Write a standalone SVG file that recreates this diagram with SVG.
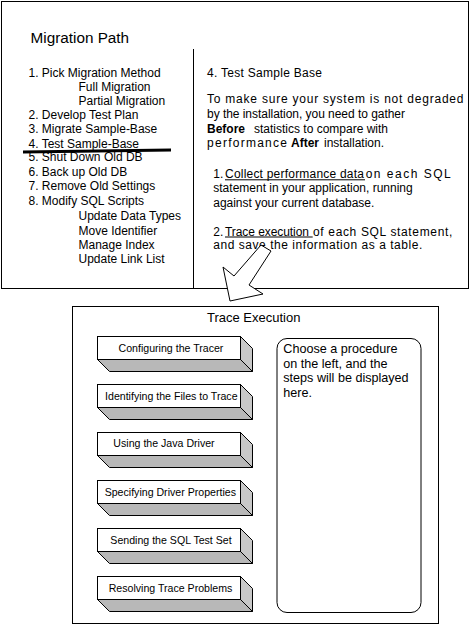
<svg xmlns="http://www.w3.org/2000/svg" width="469" height="626" viewBox="0 0 469 626">
<style>
text{font-family:"Liberation Sans",Arial,sans-serif;fill:#000}
.t12{font-size:12px}
.b{font-weight:bold}
.frame{fill:#fff;stroke:#000;stroke-width:1}
.ln{stroke:#000;stroke-width:1;fill:none}
.face{fill:#fff;stroke:#000;stroke-width:1}
.side{fill:#c8c8c8;stroke:#000;stroke-width:1;stroke-linejoin:miter}
.bot{fill:#b8b8b8;stroke:#000;stroke-width:1}
.lbl{font-size:10.6px;text-anchor:middle}
.panel{font-size:12.6px}
</style>
<rect width="469" height="626" fill="#fff"/>

<g id="migration-path">
<rect class="frame" x="1.5" y="1.5" width="467" height="287"/>
<line class="ln" x1="193.5" y1="49" x2="193.5" y2="288.5"/>
<text x="30.5" y="43" style="font-size:15.3px">Migration Path</text>
<g class="t12">
<text x="28.5" y="76.5">1. Pick Migration Method</text>
<text x="78.5" y="90.5">Full Migration</text>
<text x="78.5" y="104.5">Partial Migration</text>
<text x="28.5" y="119">2. Develop Test Plan</text>
<text x="28.5" y="133">3. Migrate Sample-Base</text>
<text x="28.5" y="147.5">4. Test Sample-Base</text>
<text x="28.5" y="161">5. Shut Down Old DB</text>
<text x="28.5" y="176">6. Back up Old DB</text>
<text x="28.5" y="190">7. Remove Old Settings</text>
<text x="28.5" y="204.5">8. Modify SQL Scripts</text>
<text x="78.5" y="220">Update Data Types</text>
<text x="78.5" y="234.5">Move Identifier</text>
<text x="78.5" y="248.5">Manage Index</text>
<text x="78.5" y="263">Update Link List</text>
</g>
<line x1="23" y1="152" x2="171" y2="150" stroke="#000" stroke-width="3"/>
</g>

<g id="test-sample-base" class="t12">
<text x="207" y="77" textLength="115" lengthAdjust="spacing">4. Test Sample Base</text>
<text x="207" y="103" textLength="256.5" lengthAdjust="spacing">To make sure your system is not degraded</text>
<text x="207" y="117.5" textLength="198" lengthAdjust="spacing">by the installation, you need to gather</text>
<text x="207" y="132.5" class="b">Before</text>
<text x="254" y="132.5">statistics to compare with</text>
<text x="207" y="146.5" textLength="80" lengthAdjust="spacing">performance</text>
<text x="291" y="146.5" class="b">After</text>
<text x="324" y="146.5">installation.</text>

<text x="213.3" y="178.3">1.</text>
<text x="225" y="178.3" textLength="139" lengthAdjust="spacing">Collect performance data</text>
<line class="ln" x1="225" y1="179.8" x2="365" y2="179.8"/>
<text x="365.7" y="178.3" textLength="85" lengthAdjust="spacing">on each SQL</text>
<text x="213.3" y="192.3" textLength="199.4" lengthAdjust="spacing">statement in your application, running</text>
<text x="213.3" y="206.5" textLength="161" lengthAdjust="spacing">against your current database.</text>
<text x="213.3" y="235.5">2.</text>
<text x="225" y="235.5" textLength="84" lengthAdjust="spacing">Trace execution</text>
<line class="ln" x1="225" y1="237" x2="312.7" y2="237"/>
<text x="313" y="235.5" textLength="139.3" lengthAdjust="spacing">of each SQL statement,</text>
<text x="213.3" y="249.3" textLength="209" lengthAdjust="spacing">and save the information as a table.</text>
</g>

<g id="connectors">
<polygon points="261,245 271,251 249,285 263,294 230,301 223,267 234,276" fill="#fff" stroke="#000" stroke-width="1" stroke-linejoin="miter"/>
</g>

<g id="trace-execution">
<rect class="frame" x="72.5" y="306.5" width="366" height="317"/>
<text x="253.7" y="322.3" style="font-size:13px" text-anchor="middle">Trace Execution</text>
</g>

<g id="btn-configuring">
<polygon class="side" points="240.5,336.5 252.5,348.5 252.5,371.5 240.5,359.5"/>
<polygon class="bot" points="97.5,359.5 240.5,359.5 252.5,371.5 109.5,371.5"/>
<rect class="face" x="97.5" y="336.5" width="143" height="23"/>
<text class="lbl" x="171" y="352.3">Configuring the Tracer</text>
</g>
<g id="btn-identifying">
<polygon class="side" points="240.5,384.5 252.5,396.5 252.5,419.5 240.5,407.5"/>
<polygon class="bot" points="97.5,407.5 240.5,407.5 252.5,419.5 109.5,419.5"/>
<rect class="face" x="97.5" y="384.5" width="143" height="23"/>
<text class="lbl" x="171.3" y="400.3">Identifying the Files to Trace</text>
</g>
<g id="btn-java">
<polygon class="side" points="240.5,432.5 252.5,444.5 252.5,467.5 240.5,455.5"/>
<polygon class="bot" points="97.5,455.5 240.5,455.5 252.5,467.5 109.5,467.5"/>
<rect class="face" x="97.5" y="432.5" width="143" height="23"/>
<text class="lbl" x="164" y="447.3">Using the Java Driver</text>
</g>
<g id="btn-properties">
<polygon class="side" points="240.5,480.5 252.5,492.5 252.5,515.5 240.5,503.5"/>
<polygon class="bot" points="97.5,503.5 240.5,503.5 252.5,515.5 109.5,515.5"/>
<rect class="face" x="97.5" y="480.5" width="143" height="23"/>
<text class="lbl" x="170.3" y="495.8">Specifying Driver Properties</text>
</g>
<g id="btn-sending">
<polygon class="side" points="240.5,528.5 252.5,540.5 252.5,563.5 240.5,551.5"/>
<polygon class="bot" points="97.5,551.5 240.5,551.5 252.5,563.5 109.5,563.5"/>
<rect class="face" x="97.5" y="528.5" width="143" height="23"/>
<text class="lbl" x="171" y="543.8">Sending the SQL Test Set</text>
</g>
<g id="btn-resolving">
<polygon class="side" points="240.5,576.5 252.5,588.5 252.5,611.5 240.5,599.5"/>
<polygon class="bot" points="97.5,599.5 240.5,599.5 252.5,611.5 109.5,611.5"/>
<rect class="face" x="97.5" y="576.5" width="143" height="23"/>
<text class="lbl" x="170.5" y="591.8">Resolving Trace Problems</text>
</g>

<g id="steps-panel">
<rect class="frame" x="277" y="338.5" width="144" height="274" rx="10" ry="10"/>
<text class="panel" x="283.3" y="353.3">Choose a procedure</text>
<text class="panel" x="283.3" y="367.7">on the left, and the</text>
<text class="panel" x="283.3" y="382.3">steps will be displayed</text>
<text class="panel" x="283.3" y="396.7">here.</text>
</g>
</svg>
